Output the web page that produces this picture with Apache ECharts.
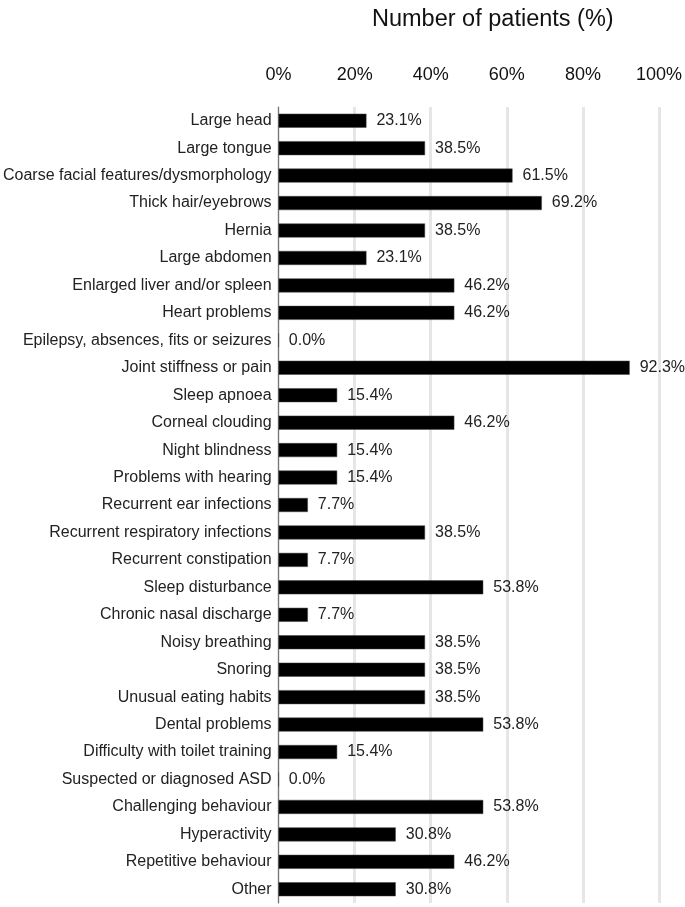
<!DOCTYPE html>
<html><head><meta charset="utf-8">
<script src="https://cdn.jsdelivr.net/npm/echarts@6/dist/echarts.min.js"></script>
<style>html,body{margin:0;padding:0;background:#fff}#c{width:685px;height:907px}</style>
</head><body><div id="c"></div>
<script>
const categories = ["Large head","Large tongue","Coarse facial features/dysmorphology","Thick hair/eyebrows","Hernia","Large abdomen","Enlarged liver and/or spleen","Heart problems","Epilepsy, absences, fits or seizures","Joint stiffness or pain","Sleep apnoea","Corneal clouding","Night blindness","Problems with hearing","Recurrent ear infections","Recurrent respiratory infections","Recurrent constipation","Sleep disturbance","Chronic nasal discharge","Noisy breathing","Snoring","Unusual eating habits","Dental problems","Difficulty with toilet training","Suspected or diagnosed ASD","Challenging behaviour","Hyperactivity","Repetitive behaviour","Other"];
const values = [23.1,38.5,61.5,69.2,38.5,23.1,46.2,46.2,0.0,92.3,15.4,46.2,15.4,15.4,7.7,38.5,7.7,53.8,7.7,38.5,38.5,38.5,53.8,15.4,0.0,53.8,30.8,46.2,30.8];
const axisTitle = "Number of patients (%)";
const FONT = "'Liberation Sans', Arial, sans-serif";
const chart = echarts.init(document.getElementById('c'), null, {renderer:'canvas'});
chart.setOption({
  animation:false,
  textStyle:{fontFamily:FONT},
  title:{text:axisTitle,left:367,top:3,textStyle:{fontFamily:FONT,fontSize:23.5,fontWeight:'normal',color:'#111'}},
  grid:{left:277,right:25,top:107,bottom:4,containLabel:false},
  xAxis:{type:'value',position:'top',min:0,max:100,interval:20,
    axisLabel:{formatter:'{value}%',fontSize:18,color:'#111',margin:23,fontFamily:FONT},
    axisLine:{show:false},axisTick:{show:false},
    splitLine:{show:true,lineStyle:{color:'#e6e6e6',width:3}}},
  yAxis:{type:'category',data:categories,inverse:true,
    axisLine:{show:true,lineStyle:{color:'#777',width:1}},axisTick:{show:false},
    axisLabel:{fontSize:16,color:'#222',margin:7,fontFamily:FONT}},
  series:[{type:'bar',data:values,barWidth:14,
    itemStyle:{color:'#000',borderColor:'#444',borderWidth:0.5},
    label:{show:true,position:'right',distance:10,fontSize:16,color:'#222',fontFamily:FONT,
      formatter:p=>p.value.toFixed(1)+'%'}}]
});
</script></body></html>
